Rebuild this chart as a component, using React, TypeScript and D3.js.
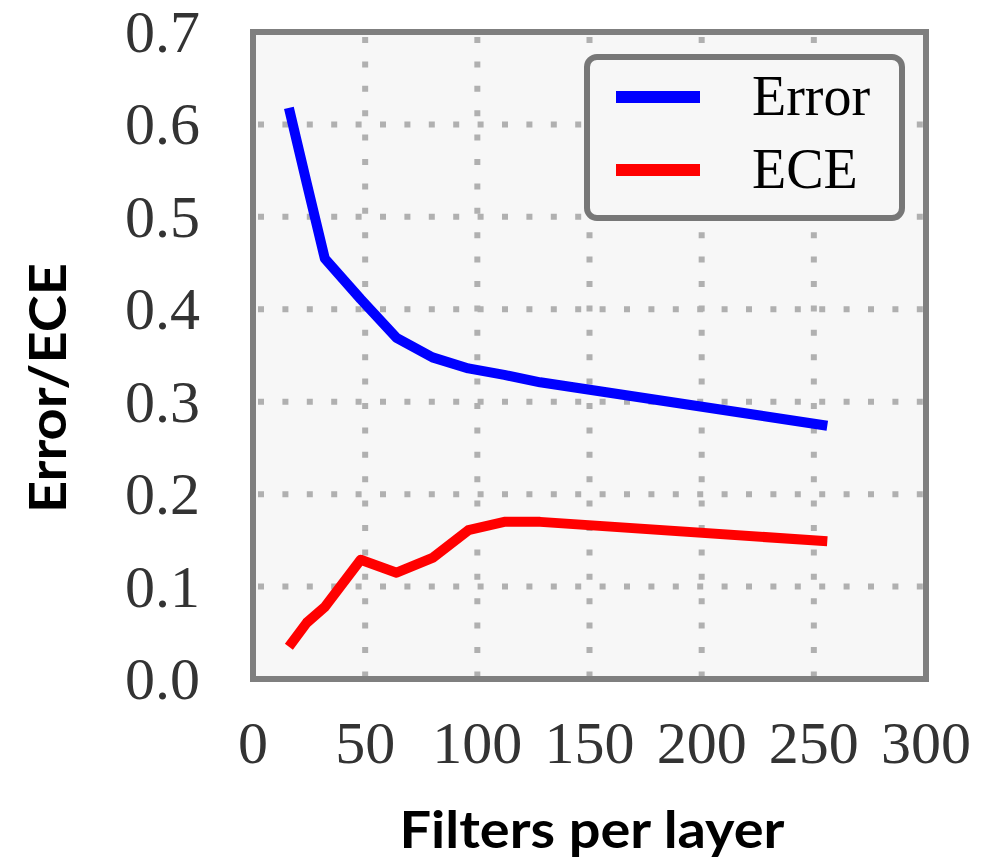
import React from "react";
import * as d3 from "d3";

// values
const filters = [16, 24, 32, 48, 64, 80, 96, 112, 128, 256];
const errorVals = [0.618, 0.536, 0.455, 0.411, 0.369, 0.348, 0.336, 0.329, 0.321, 0.274];
const eceVals = [0.035, 0.061, 0.078, 0.129, 0.115, 0.131, 0.161, 0.17, 0.17, 0.149];

const xTicks = [0, 50, 100, 150, 200, 250, 300];
const yTicks = [0, 0.1, 0.2, 0.3, 0.4, 0.5, 0.6, 0.7];

const seriesNames = ["Error", "ECE"];
const seriesColors = ["#0000ff", "#ff0000"];

const W = 986;
const H = 866;
const plot = { left: 253, right: 926, top: 32, bottom: 679 };

const App = () => {
  const x = d3.scaleLinear().domain([0, 300]).range([plot.left, plot.right]);
  const y = d3.scaleLinear().domain([0, 0.7]).range([plot.bottom, plot.top]);

  const line = d3
    .line<number>()
    .x((_, i) => x(filters[i]))
    .y((d) => y(d));

  const series = [errorVals, eceVals];
  const tickFont = "'Liberation Serif', 'DejaVu Serif', serif";
  const labelFont = "Lato, 'Open Sans', sans-serif";

  return (
    <svg
      width={W}
      height={H}
      style={{ position: "absolute", left: 0, top: 0, background: "#fff" }}
    >
      {/* plot background */}
      <rect
        x={plot.left}
        y={plot.top}
        width={plot.right - plot.left}
        height={plot.bottom - plot.top}
        fill="#f7f7f7"
      />

      {/* dotted grid */}
      {xTicks.slice(1, -1).map((t) => (
        <line
          key={"gx" + t}
          x1={x(t)}
          x2={x(t)}
          y1={plot.top + 3}
          y2={plot.bottom}
          stroke="#b0b0b0"
          strokeWidth={6}
          strokeDasharray="6,18.4"
          strokeDashoffset={-2}
        />
      ))}
      {yTicks.slice(1, -1).map((t) => (
        <line
          key={"gy" + t}
          x1={plot.left + 3}
          x2={plot.right}
          y1={y(t)}
          y2={y(t)}
          stroke="#b0b0b0"
          strokeWidth={6}
          strokeDasharray="6,18.4"
          strokeDashoffset={-2}
        />
      ))}

      {/* series */}
      {series.map((vals, i) => (
        <path
          key={seriesNames[i]}
          d={line(vals) || ""}
          fill="none"
          stroke={seriesColors[i]}
          strokeWidth={10}
          strokeLinejoin="round"
          strokeLinecap="butt"
        />
      ))}

      {/* frame */}
      <rect
        x={plot.left}
        y={plot.top}
        width={plot.right - plot.left}
        height={plot.bottom - plot.top}
        fill="none"
        stroke="#7f7f7f"
        strokeWidth={6}
      />

      {/* tick labels */}
      {xTicks.map((t) => (
        <text
          key={"tx" + t}
          x={x(t)}
          y={763}
          textAnchor="middle"
          fontFamily={tickFont}
          fontSize={60}
          fill="#333"
        >
          {t}
        </text>
      ))}
      {yTicks.map((t) => (
        <text
          key={"ty" + t}
          x={200}
          y={y(t) + 20}
          textAnchor="end"
          fontFamily={tickFont}
          fontSize={60}
          fill="#333"
        >
          {t.toFixed(1)}
        </text>
      ))}

      {/* legend */}
      <rect x={587} y={57} width={315} height={161} rx={10} fill="#f7f7f7" stroke="#777" strokeWidth={6} />
      {seriesNames.map((name, i) => (
        <g key={"lg" + name}>
          <line
            x1={616}
            x2={700}
            y1={97 + i * 73}
            y2={97 + i * 73}
            stroke={seriesColors[i]}
            strokeWidth={12}
          />
          <text
            x={752}
            y={115 + i * 73}
            fontFamily={tickFont}
            fontSize={56}
            fill="#000"
          >
            {name}
          </text>
        </g>
      ))}

      {/* axis titles */}
      <text
        x={592}
        y={848}
        textAnchor="middle"
        fontFamily={labelFont}
        fontWeight="bold"
        fontSize={51}
        textLength={385}
        lengthAdjust="spacingAndGlyphs"
        fill="#000"
      >
        Filters per layer
      </text>
      <text
        transform={`translate(66,388) rotate(-90)`}
        textAnchor="middle"
        fontFamily={labelFont}
        fontWeight="bold"
        fontSize={52}
        textLength={250}
        lengthAdjust="spacingAndGlyphs"
        fill="#000"
      >
        Error/ECE
      </text>
    </svg>
  );
};

export default App;
